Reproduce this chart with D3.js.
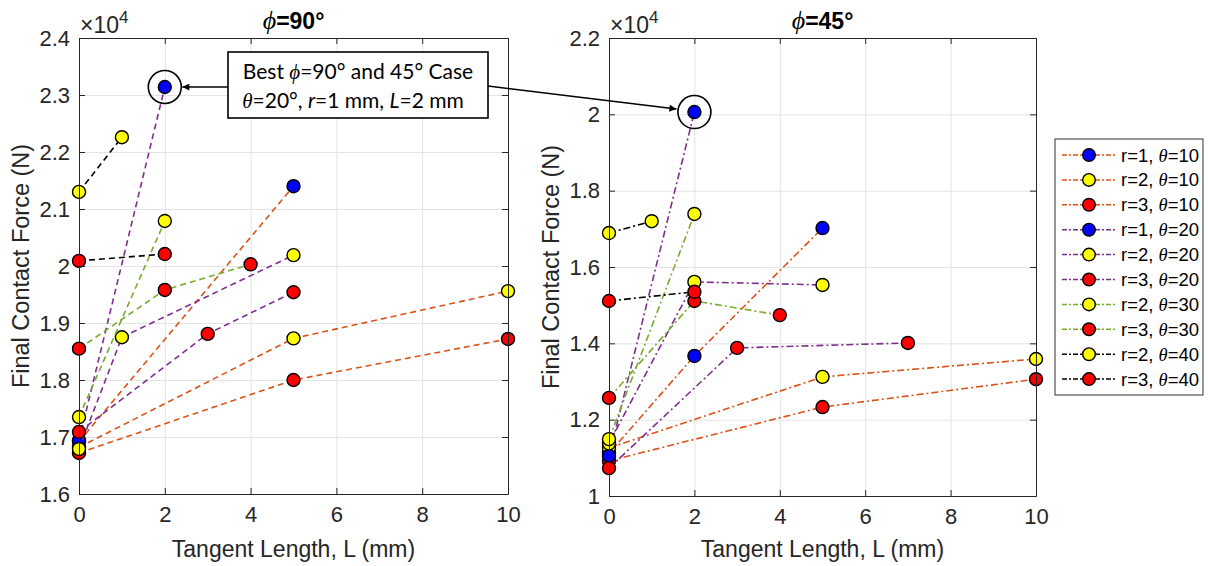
<!DOCTYPE html>
<html>
<head>
<meta charset="utf-8">
<script src="https://cdn.jsdelivr.net/npm/d3@7/dist/d3.min.js"></script>
<style>
  body { margin: 0; background: #fff; }
  svg { display: block; font-family: "Liberation Sans", Arial, sans-serif; }
</style>
</head>
<body>
<svg id="chart" width="1208" height="566"></svg>
<script>
// cases (legend order)
const radii  = [1, 2, 3, 1, 2, 3, 2, 3, 2, 3];
const thetas = [10, 10, 10, 20, 20, 20, 30, 30, 40, 40];

// phi = 90 : tangent length L (mm) and final contact force (x10^4 N)
const phi90L = [[0, 5], [0, 5, 10], [0, 5, 10], [0, 2], [0, 1, 5], [0, 3, 5], [0, 2], [0, 2, 4], [0, 1], [0, 2]];
const phi90F = [[1.692, 2.140], [1.682, 1.873, 1.956], [1.672, 1.800, 1.872], [1.694, 2.314],
                [1.679, 1.875, 2.019], [1.709, 1.881, 1.954], [1.735, 2.079], [1.855, 1.958, 2.003],
                [2.130, 2.226], [2.009, 2.021]];

// phi = 45
const phi45L = [[0, 2, 5], [0, 5, 10], [0, 5, 10], [0, 2], [0, 2, 5], [0, 3, 7], [0, 2], [0, 2, 4], [0, 1], [0, 2]];
const phi45F = [[1.112, 1.367, 1.702], [1.126, 1.312, 1.359], [1.092, 1.233, 1.306], [1.105, 2.006],
                [1.138, 1.561, 1.553], [1.073, 1.388, 1.401], [1.149, 1.739], [1.257, 1.511, 1.474],
                [1.689, 1.720], [1.511, 1.535]];

const xTicks = [0, 2, 4, 6, 8, 10];
const yTicks90 = [1.6, 1.7, 1.8, 1.9, 2.0, 2.1, 2.2, 2.3, 2.4];
const yTicks45 = [1.0, 1.2, 1.4, 1.6, 1.8, 2.0, 2.2];

// matlab-ish colours
const lineColor = d3.scaleOrdinal().domain([10, 20, 30, 40]).range(['#D95319', '#7E2F8E', '#77AC30', '#000000']);
const markColor = d3.scaleOrdinal().domain([1, 2, 3]).range(['#0000FF', '#FFFF00', '#FF0000']);

const svg = d3.select('#chart');
const axisCol = '#262626';
const greek = '"Liberation Serif", "DejaVu Serif", serif';

svg.append('defs').append('marker')
    .attr('id', 'arrow')
    .attr('viewBox', '0 0 10 10')
    .attr('refX', 10).attr('refY', 5)
    .attr('markerWidth', 9).attr('markerHeight', 7)
    .attr('markerUnits', 'userSpaceOnUse')
    .attr('orient', 'auto')
    .append('path').attr('d', 'M0,0L10,5L0,10z').attr('fill', '#000');

function drawPanel(cfg) {
    const x = d3.scaleLinear().domain([0, 10]).range([cfg.left, cfg.right]);
    const y = d3.scaleLinear().domain(cfg.yDomain).range([cfg.bottom, cfg.top]);
    const g = svg.append('g');
    const w = cfg.right - cfg.left, h = cfg.bottom - cfg.top;

    // grid
    g.append('g').attr('transform', `translate(0,${cfg.bottom})`)
        .call(d3.axisBottom(x).tickValues(xTicks).tickSize(-h).tickFormat(''))
        .call(s => s.select('.domain').remove())
        .selectAll('line').attr('stroke', '#e3e3e3');
    g.append('g').attr('transform', `translate(${cfg.left},0)`)
        .call(d3.axisLeft(y).tickValues(cfg.yTicks).tickSize(-w).tickFormat(''))
        .call(s => s.select('.domain').remove())
        .selectAll('line').attr('stroke', '#e3e3e3');

    // series
    const line = d3.line().x(d => x(d[0])).y(d => y(d[1]));
    cfg.L.forEach((ls, i) => {
        const pts = ls.map((l, j) => [l, cfg.F[i][j]]);
        g.append('path').datum(pts)
            .attr('d', line)
            .attr('fill', 'none')
            .attr('stroke', lineColor(thetas[i]))
            .attr('stroke-width', 1.6)
            .attr('stroke-dasharray', cfg.dash);
        g.selectAll(null).data(pts).join('circle')
            .attr('cx', d => x(d[0])).attr('cy', d => y(d[1]))
            .attr('r', 6.5)
            .attr('fill', markColor(radii[i]))
            .attr('stroke', '#000').attr('stroke-width', 1.4);
    });

    // axes (inward ticks, boxed)
    const fmt = d => String(+d.toFixed(1));
    const styleAxis = s => {
        s.select('.domain').attr('stroke', axisCol);
        s.selectAll('.tick line').attr('stroke', axisCol);
        s.selectAll('text').attr('fill', '#262626').attr('font-size', 22)
            .attr('font-family', '"Liberation Sans", Arial, sans-serif');
    };
    g.append('g').attr('transform', `translate(0,${cfg.bottom})`)
        .call(d3.axisBottom(x).tickValues(xTicks).tickFormat(fmt).tickSizeInner(-6).tickSizeOuter(0).tickPadding(12))
        .call(styleAxis);
    g.append('g').attr('transform', `translate(0,${cfg.top})`)
        .call(d3.axisTop(x).tickValues(xTicks).tickFormat('').tickSizeInner(-6).tickSizeOuter(0))
        .call(styleAxis);
    g.append('g').attr('transform', `translate(${cfg.left},0)`)
        .call(d3.axisLeft(y).tickValues(cfg.yTicks).tickFormat(fmt).tickSizeInner(-6).tickSizeOuter(0).tickPadding(9))
        .call(styleAxis);
    g.append('g').attr('transform', `translate(${cfg.right},0)`)
        .call(d3.axisRight(y).tickValues(cfg.yTicks).tickFormat('').tickSizeInner(-6).tickSizeOuter(0))
        .call(styleAxis);

    // exponent
    const ex = g.append('text').attr('x', cfg.left + 1).attr('y', cfg.top - 5)
        .attr('font-size', 23).attr('fill', '#262626');
    ex.append('tspan').text('×10');
    ex.append('tspan').attr('dy', -10).attr('font-size', 17).text('4');

    // title
    const t = g.append('text').attr('x', (cfg.left + cfg.right) / 2).attr('y', 29)
        .attr('text-anchor', 'middle').attr('font-size', 23).attr('font-weight', 'bold').attr('fill', '#000');
    t.append('tspan').attr('font-family', greek).attr('font-style', 'italic').attr('font-weight', 'normal')
        .attr('font-size', 26).text('ϕ');
    t.append('tspan').text('=' + cfg.phi + '°');

    // axis labels
    g.append('text').attr('x', (cfg.left + cfg.right) / 2).attr('y', 557)
        .attr('text-anchor', 'middle').attr('font-size', 23).attr('fill', '#262626')
        .text('Tangent Length, L (mm)');
    g.append('text')
        .attr('transform', `translate(${cfg.left - 50},${(cfg.top + cfg.bottom) / 2}) rotate(-90)`)
        .attr('text-anchor', 'middle').attr('font-size', 23.5).attr('fill', '#262626')
        .text('Final Contact Force (N)');

    return { x, y };
}

const p90 = drawPanel({ left: 79, right: 508, top: 38, bottom: 494, yDomain: [1.6, 2.4], yTicks: yTicks90,
    L: phi90L, F: phi90F, dash: '6,4', phi: 90 });
const p45 = drawPanel({ left: 609, right: 1036, top: 38, bottom: 496, yDomain: [1.0, 2.2], yTicks: yTicks45,
    L: phi45L, F: phi45F, dash: '7,3,2,3', phi: 45 });

// highlight best case (r=1, theta=20, L=2)
const best = 3;
const c90 = [p90.x(phi90L[best][1]), p90.y(phi90F[best][1])];
const c45 = [p45.x(phi45L[best][1]), p45.y(phi45F[best][1])];
const ann = svg.append('g');
[c90, c45].forEach(c => {
    ann.append('circle').attr('cx', c[0]).attr('cy', c[1]).attr('r', 16.5)
        .attr('fill', 'none').attr('stroke', '#000').attr('stroke-width', 1.6);
});

const box = { x: 228, y: 52, w: 260, h: 66 };
ann.append('line').attr('x1', box.x).attr('y1', c90[1]).attr('x2', c90[0] + 17.5).attr('y2', c90[1])
    .attr('stroke', '#000').attr('stroke-width', 1.5).attr('marker-end', 'url(#arrow)');
ann.append('line').attr('x1', box.x + box.w).attr('y1', 86).attr('x2', c45[0] - 18).attr('y2', c45[1] - 3)
    .attr('stroke', '#000').attr('stroke-width', 1.5).attr('marker-end', 'url(#arrow)');
ann.append('rect').attr('x', box.x).attr('y', box.y).attr('width', box.w).attr('height', box.h)
    .attr('fill', '#fff').attr('stroke', '#000').attr('stroke-width', 1.6);

const annFont = 'Lato, "Open Sans", sans-serif';
const l1 = ann.append('text').attr('x', box.x + box.w / 2).attr('y', 79).attr('text-anchor', 'middle')
    .attr('font-family', annFont).attr('font-size', 21).attr('fill', '#000');
l1.append('tspan').text('Best ');
l1.append('tspan').attr('font-family', greek).attr('font-style', 'italic').text('ϕ');
l1.append('tspan').text('=90° and 45° Case');
const l2 = ann.append('text').attr('x', box.x + box.w / 2 - 5).attr('y', 108).attr('text-anchor', 'middle')
    .attr('font-family', annFont).attr('font-size', 21).attr('fill', '#000');
l2.append('tspan').attr('font-family', greek).attr('font-style', 'italic').text('θ');
l2.append('tspan').text('=20°, ');
l2.append('tspan').attr('font-style', 'italic').text('r');
l2.append('tspan').text('=1 mm, ');
l2.append('tspan').attr('font-style', 'italic').text('L');
l2.append('tspan').text('=2 mm');

// legend
const leg = svg.append('g').attr('transform', 'translate(1055,139)');
leg.append('rect').attr('width', 148).attr('height', 256)
    .attr('fill', '#fff').attr('stroke', '#333').attr('stroke-width', 1);
radii.forEach((r, i) => {
    const row = leg.append('g').attr('transform', `translate(0,${16 + i * 24.9})`);
    row.append('line').attr('x1', 7).attr('x2', 62)
        .attr('stroke', lineColor(thetas[i])).attr('stroke-width', 1.5).attr('stroke-dasharray', '5,2,2,2');
    row.append('circle').attr('cx', 34).attr('r', 6.3)
        .attr('fill', markColor(r)).attr('stroke', '#000').attr('stroke-width', 1.4);
    const tx = row.append('text').attr('x', 66).attr('y', 6.5).attr('font-size', 18.5).attr('fill', '#000');
    tx.append('tspan').text('r=' + r + ', ');
    tx.append('tspan').attr('font-family', greek).attr('font-style', 'italic').text('θ');
    tx.append('tspan').text('=' + thetas[i]);
});
</script>
</body>
</html>
